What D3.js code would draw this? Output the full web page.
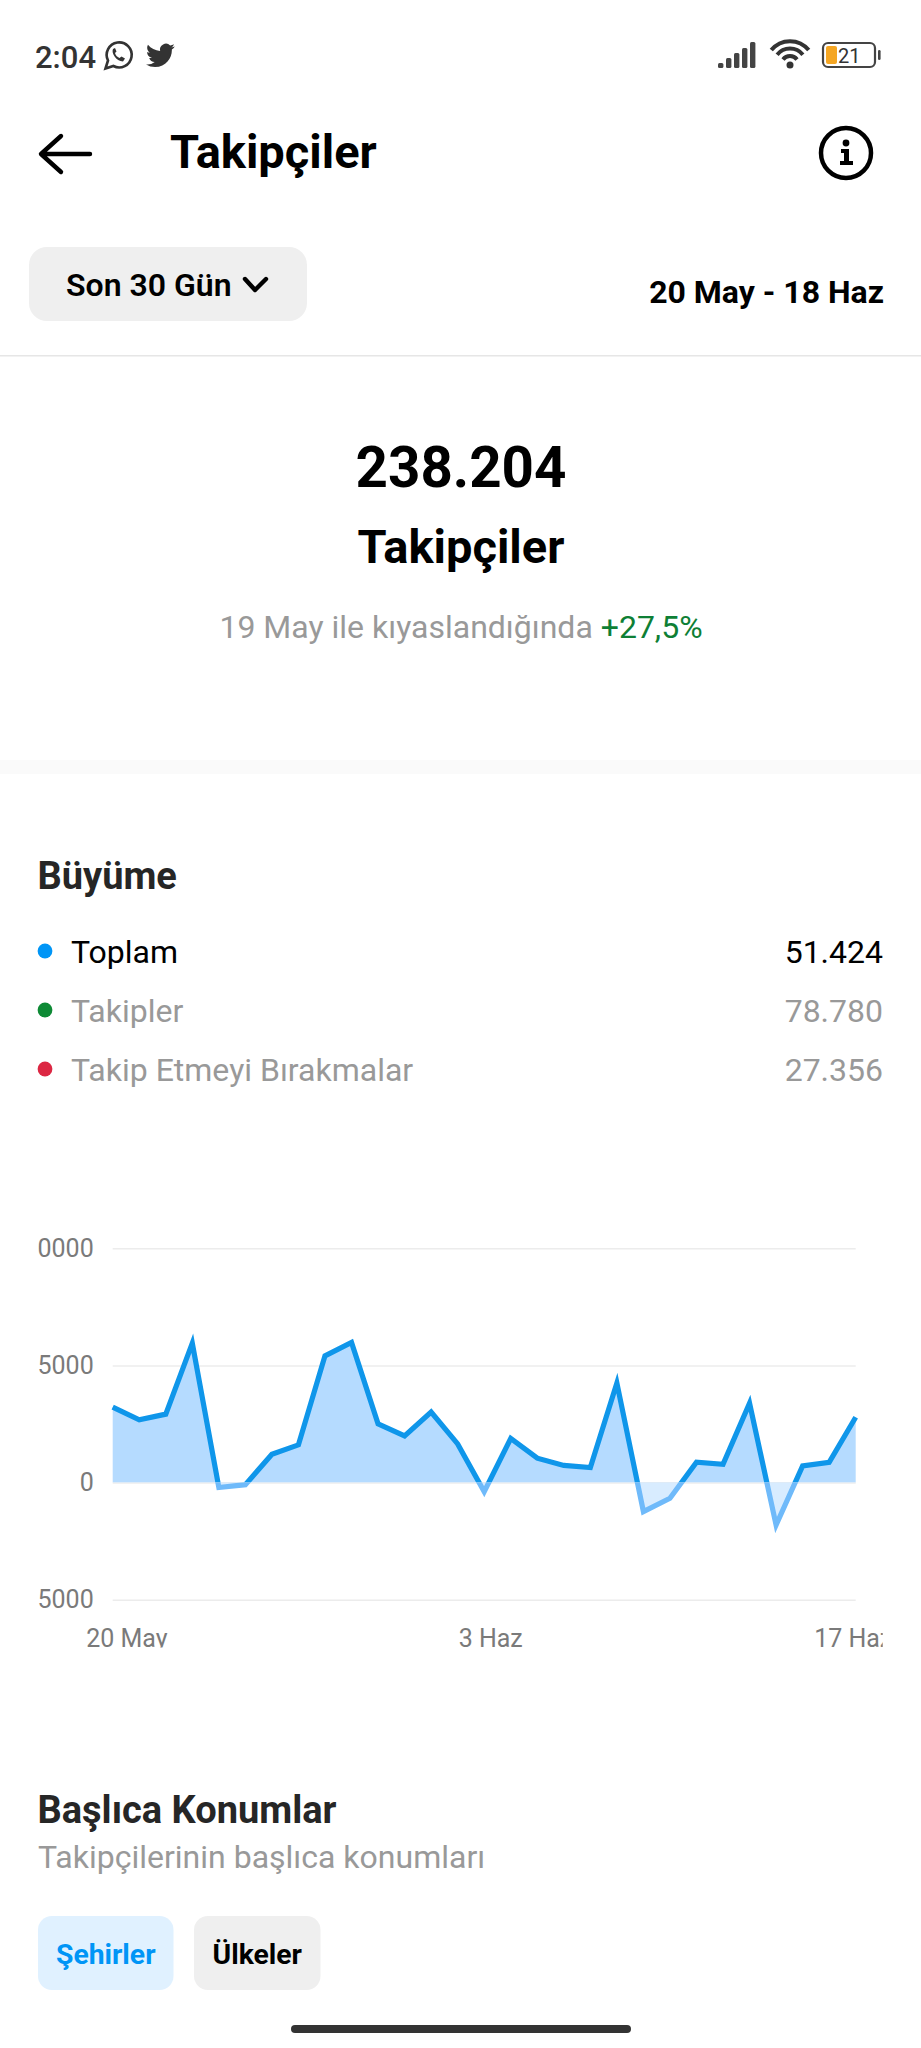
<!DOCTYPE html>
<html lang="tr">
<head>
<meta charset="utf-8">
<script src="https://cdn.jsdelivr.net/npm/d3@7"></script>
<style>
html,body{margin:0;padding:0;background:#fff}
svg{display:block}
text{font-family:Roboto,sans-serif}
</style>
</head>
<body>
<svg id="c" width="921" height="2048" viewBox="0 0 921 2048"></svg>
<script>
const dayIndex = d3.range(29);
const totals = [3220,2680,2920,5950,-210,-90,1210,1610,5410,5980,2510,1990,3010,1650,-390,1880,1040,730,640,4250,-1240,-670,870,780,3390,-1810,710,860,2790];
const yTicks = [10000,5000,0,-5000];
const xTickIndex = [0,14,28];
const xTickLabels = ["20 May","3 Haz","17 Haz"];
const legendNames = ["Toplam","Takipler","Takip Etmeyi Bırakmalar"];
const legendValues = ["51.424","78.780","27.356"];
const legendColors = ["#0095f6","#0e8a35","#dc2743"];
const locationTabs = ["Şehirler","Ülkeler"];

const svg = d3.select("#c");
const T = (x,y,s,o={})=>{
  const t = svg.append("text").attr("x",x).attr("y",y).text(s)
    .attr("font-size",o.size||30).attr("font-weight",o.weight||400)
    .attr("fill",o.fill||"#000").attr("text-anchor",o.anchor||"start");
  return t;
};

/* status bar */
T(35,68,"2:04",{size:31,weight:500,fill:"#333"});
const wa = svg.append("g").attr("transform","translate(118,55)");
wa.append("path").attr("d","M-12.5 13.5 L-10 5.5 A12.5 12.5 0 1 1 -4.6 11 Z").attr("fill","none").attr("stroke","#333").attr("stroke-width",2.6);
wa.append("path").attr("d","M-5 -6 C-7 -2 -2 6 5 6.5 L7 3.5 L3.5 1.5 L1.5 3 C-1 2 -2.5 0 -3 -2 L-1.5 -3.5 L-3 -7 Z").attr("fill","#333");
svg.append("path").attr("transform","translate(146,41) scale(1.2)")
  .attr("d","M23.953 4.57a10 10 0 01-2.825.775 4.958 4.958 0 002.163-2.723c-.951.555-2.005.959-3.127 1.184a4.92 4.92 0 00-8.384 4.482C7.69 8.095 4.067 6.13 1.64 3.162a4.822 4.822 0 00-.666 2.475c0 1.71.87 3.213 2.188 4.096a4.904 4.904 0 01-2.228-.616v.06a4.923 4.923 0 003.946 4.827 4.996 4.996 0 01-2.212.085 4.936 4.936 0 004.604 3.417 9.867 9.867 0 01-6.102 2.105c-.39 0-.779-.023-1.17-.067a13.995 13.995 0 007.557 2.209c9.053 0 13.998-7.496 13.998-13.985 0-.21 0-.42-.015-.63A9.935 9.935 0 0024 4.59z")
  .attr("fill","#333");
[[718,5],[726,10],[734,15],[742,20],[750,26]].forEach(([x,h])=>{
  svg.append("rect").attr("x",x).attr("y",68-h).attr("width",5.4).attr("height",h).attr("rx",1.5).attr("fill","#444");
});
[24,16.5,9].forEach(r=>{
  const sx = r*0.78, sy = r*0.62;
  svg.append("path").attr("d",`M${790-sx} ${65-sy} A${r} ${r} 0 0 1 ${790+sx} ${65-sy}`)
    .attr("fill","none").attr("stroke","#333").attr("stroke-width",4);
});
svg.append("circle").attr("cx",790).attr("cy",65).attr("r",3.5).attr("fill","#333");
svg.append("rect").attr("x",823).attr("y",43).attr("width",52).attr("height",24).attr("rx",5).attr("fill","none").attr("stroke","#444").attr("stroke-width",2.2);
svg.append("rect").attr("x",826).attr("y",46).attr("width",11).attr("height",18).attr("rx",2).attr("fill","#f5a623");
svg.append("rect").attr("x",878).attr("y",50).attr("width",2.6).attr("height",10).attr("rx",1.3).attr("fill","#444");
T(838,63,"21",{size:20,fill:"#333"});

/* header */
svg.append("path").attr("d","M90 154 H42 M61 136 L41 154 L61 172").attr("fill","none").attr("stroke","#000").attr("stroke-width",4.4).attr("stroke-linecap","round").attr("stroke-linejoin","round");
T(170,168,"Takipçiler",{size:47,weight:700});
svg.append("circle").attr("cx",846).attr("cy",153).attr("r",25).attr("fill","none").attr("stroke","#000").attr("stroke-width",4.5);
svg.append("circle").attr("cx",846).attr("cy",143).attr("r",3.4).attr("fill","#000");
svg.append("path").attr("d","M841 149 H849 V161 H853 V165 H840 V161 H844 V153 H841 Z").attr("fill","#000");

/* range selector */
svg.append("rect").attr("x",29).attr("y",247).attr("width",278).attr("height",74).attr("rx",18).attr("fill","#efefef");
T(66,296,"Son 30 Gün",{size:32,weight:600});
svg.append("path").attr("d","M245 279 L255 290 L266 279").attr("fill","none").attr("stroke","#000").attr("stroke-width",4.4).attr("stroke-linecap","round").attr("stroke-linejoin","round");
T(884,303,"20 May - 18 Haz",{size:32,weight:700,anchor:"end"});
svg.append("rect").attr("x",0).attr("y",355).attr("width",921).attr("height",1.5).attr("fill","#e6e6e6");

/* headline */
T(461,487,"238.204",{size:56.5,weight:700,anchor:"middle"});
T(461,563,"Takipçiler",{size:47,weight:700,anchor:"middle"});
const sub = T(461,638,"19 May ile kıyaslandığında ",{size:32,fill:"#999",anchor:"middle"});
sub.append("tspan").attr("fill","#0e7f35").text("+27,5%");
svg.append("rect").attr("x",0).attr("y",760).attr("width",921).attr("height",14).attr("fill","#fafafa");

/* growth legend */
T(37.5,889,"Büyüme",{size:38,weight:700,fill:"#262626"});
const rowY = d3.scalePoint().domain(legendNames).range([951,1069]);
legendNames.forEach((n,i)=>{
  const c = i===0?"#000":"#999";
  svg.append("circle").attr("cx",45).attr("cy",rowY(n)).attr("r",7.4).attr("fill",legendColors[i]);
  T(71,rowY(n)+11.5,n,{size:32,fill:c});
  T(883,rowY(n)+11.5,legendValues[i],{size:32,fill:c,anchor:"end"});
});

/* chart */
const x = d3.scaleLinear().domain([0,28]).range([112.7,855.7]);
const y = d3.scaleLinear().domain([-5000,10000]).range([1599.7,1248.3]);
const defs = svg.append("defs");
defs.append("clipPath").attr("id","above").append("rect").attr("x",0).attr("y",0).attr("width",921).attr("height",y(0));
defs.append("clipPath").attr("id","below").append("rect").attr("x",0).attr("y",y(0)).attr("width",921).attr("height",2048-y(0));
defs.append("clipPath").attr("id","ylab").append("rect").attr("x",37).attr("y",1200).attr("width",884).attr("height",440);
defs.append("clipPath").attr("id","xlab").append("rect").attr("x",0).attr("y",1610).attr("width",882.7).attr("height",37.5);

const gy = svg.append("g").attr("clip-path","url(#ylab)").append("g").attr("transform","translate(112.7,0)")
  .call(d3.axisLeft(y).tickValues(yTicks).tickFormat(d3.format("d")).tickSize(-743).tickPadding(19));
gy.select(".domain").remove();
gy.selectAll(".tick line").attr("stroke","#ececec").attr("stroke-width",1.6);
gy.selectAll(".tick text").attr("font-family","Roboto,sans-serif").attr("font-size",25).attr("fill","#7a7a7a");

const gx = svg.append("g").attr("clip-path","url(#xlab)").append("g").attr("transform","translate(0,1647)")
  .call(d3.axisBottom(x).tickValues(xTickIndex).tickFormat((d,i)=>xTickLabels[i]).tickSize(0).tickPadding(0));
gx.select(".domain").remove();
gx.selectAll(".tick text").attr("font-family","Roboto,sans-serif").attr("font-size",25).attr("fill","#7a7a7a")
  .attr("y",0).attr("dy",0)
  .attr("text-anchor",(d,i)=>i===0?"start":"middle")
  .attr("dx",(d,i)=>[-27,6,-3][i]);

const area = d3.area().x((d,i)=>x(dayIndex[i])).y0(y(0)).y1(d=>y(d));
const line = d3.line().x((d,i)=>x(dayIndex[i])).y(d=>y(d));
[["above","#b5dbff","#0f96ea"],["below","#d8ecff","#6fbafa"]].forEach(([clip,fillC,lineC])=>{
  const g = svg.append("g").attr("clip-path",`url(#${clip})`);
  g.append("path").datum(totals).attr("d",area).attr("fill",fillC);
  g.append("path").datum(totals).attr("d",line).attr("fill","none").attr("stroke",lineC).attr("stroke-width",5.2).attr("stroke-linejoin","miter");
});

/* locations */
T(37.5,1823,"Başlıca Konumlar",{size:38,weight:700,fill:"#262626"});
T(38,1868,"Takipçilerinin başlıca konumları",{size:32,fill:"#999"});
const tabX = d3.scaleOrdinal().domain(locationTabs).range([38,194]);
const tabW = d3.scaleOrdinal().domain(locationTabs).range([135.5,126.5]);
locationTabs.forEach((t,i)=>{
  svg.append("rect").attr("x",tabX(t)).attr("y",1916).attr("width",tabW(t)).attr("height",74).attr("rx",14).attr("fill",i===0?"#e0f1ff":"#efefef");
  T(tabX(t)+tabW(t)/2,1964,t,{size:28.3,weight:700,fill:i===0?"#0095f6":"#000",anchor:"middle"});
});
svg.append("rect").attr("x",291).attr("y",2025).attr("width",340).attr("height",8).attr("rx",4).attr("fill","#333");
</script>
</body>
</html>
